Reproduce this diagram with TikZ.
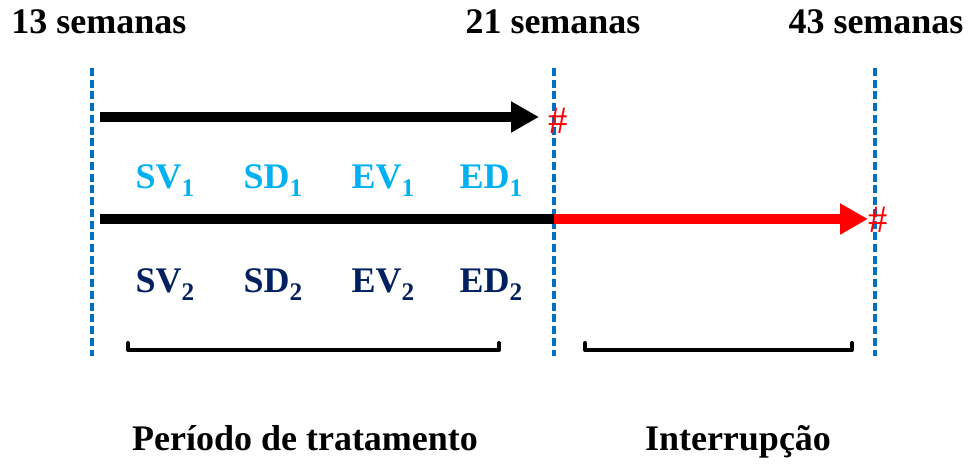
\documentclass[tikz,border=0pt]{standalone}
\usepackage{fontspec}
\setmainfont{Liberation Serif}
\usetikzlibrary{arrows.meta}
\definecolor{dashblue}{RGB}{0,112,192}
\definecolor{lightblue}{RGB}{0,176,240}
\definecolor{navy}{RGB}{0,32,96}
\newcommand{\mysub}[1]{\raisebox{-6pt}{\fontsize{19}{20}\selectfont #1}}
\begin{document}
\begin{tikzpicture}[x=0.75pt,y=-0.75pt,
  lbl/.style={font=\fontsize{27}{32}\selectfont\bfseries, inner sep=0pt, anchor=base},
  grpA/.style={lbl, text=lightblue},
  grpB/.style={lbl, text=navy},
  hash/.style={font=\fontsize{29}{32}\selectfont, text=red, inner sep=0pt},
  vdash/.style={draw=dashblue, line width=2.4pt, dash pattern=on 6pt off 2.8pt},
  bigarrow/.style={line width=7pt, -{Triangle[length=21pt,width=22pt]}},
  brace/.style={draw=black, line width=3pt, line cap=round, line join=round}]
\useasboundingbox (0,0) rectangle (968,466);
% top labels
\node[lbl] (w13) at (99,34) {13 semanas};
\node[lbl] (w21) at (553,34) {21 semanas};
\node[lbl] (w43) at (876,34) {43 semanas};
% dashed verticals
\coordinate (d1t) at (92,68); \coordinate (d1b) at (92,356);
\coordinate (d2t) at (554,68); \coordinate (d2b) at (554,356);
\coordinate (d3t) at (875,68); \coordinate (d3b) at (875,356);
\draw[vdash] (d1t) -- (d1b);
\draw[vdash] (d2t) -- (d2b);
\draw[vdash] (d3t) -- (d3b);
% top arrow
\coordinate (a1s) at (100,117); \coordinate (a1e) at (539,117);
\draw[bigarrow] (a1s) -- (a1e);
\node[hash] (h1) at (558,121) {\#};
% middle line
\coordinate (m1) at (100,219); \coordinate (m2) at (554,219); \coordinate (m3) at (868,219);
\draw[line width=7pt] (m1) -- (m2);
\draw[bigarrow, draw=red, fill=red] (m2) -- (m3);
\node[hash] (h2) at (878,220) {\#};
% labels row 1
\node[grpA] (sv1) at (165,189) {SV\mysub{1}};
\node[grpA] (sd1) at (273,189) {SD\mysub{1}};
\node[grpA] (ev1) at (383,189) {EV\mysub{1}};
\node[grpA] (ed1) at (491,189) {ED\mysub{1}};
% labels row 2
\node[grpB] (sv2) at (165,293) {SV\mysub{2}};
\node[grpB] (sd2) at (273,293) {SD\mysub{2}};
\node[grpB] (ev2) at (383,293) {EV\mysub{2}};
\node[grpB] (ed2) at (491,293) {ED\mysub{2}};
% brackets
\coordinate (b1a) at (128,343); \coordinate (b1b) at (128,350);
\coordinate (b1c) at (499,350); \coordinate (b1d) at (499,343);
\draw[brace] (b1a) -- (b1b) -- (b1c) -- (b1d);
\coordinate (b2a) at (585,343); \coordinate (b2b) at (585,350);
\coordinate (b2c) at (852,350); \coordinate (b2d) at (852,343);
\draw[brace] (b2a) -- (b2b) -- (b2c) -- (b2d);
% bottom labels
\node[lbl] (per) at (305,451) {Período de tratamento};
\node[lbl] (int) at (738,451) {Interrupção};
\end{tikzpicture}
\end{document}
